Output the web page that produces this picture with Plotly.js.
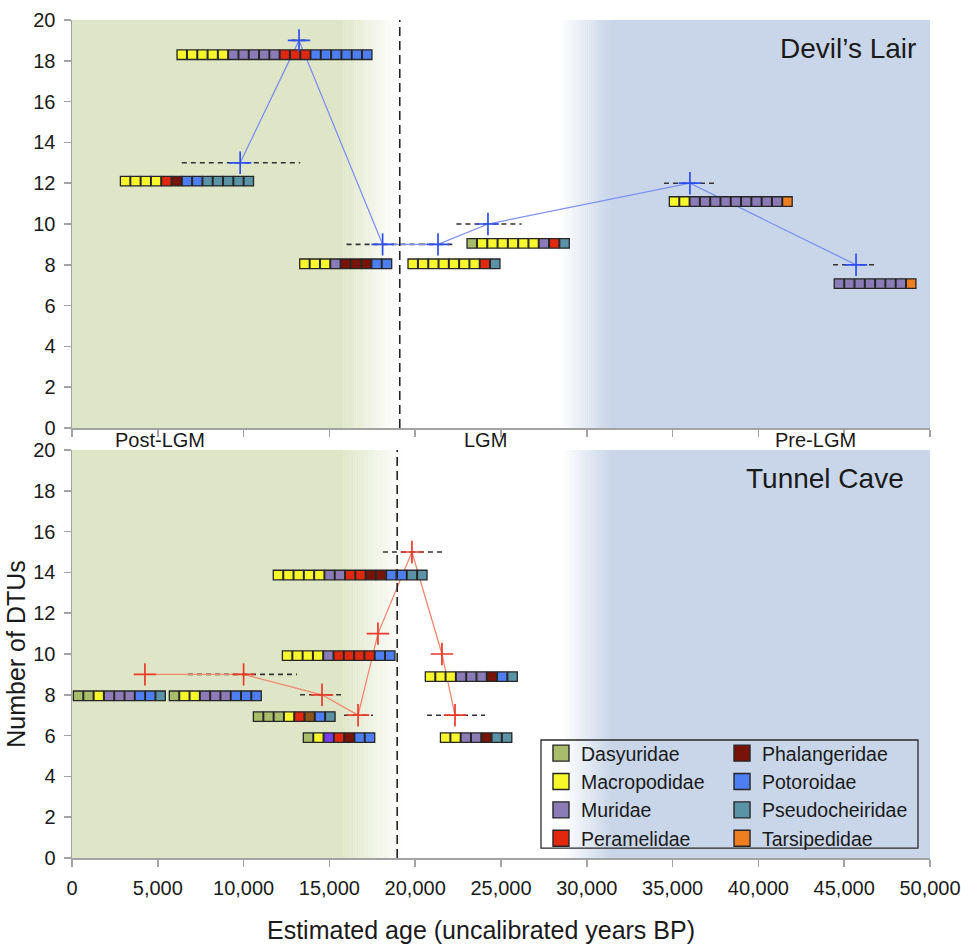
<!DOCTYPE html>
<html><head><meta charset="utf-8">
<script src="https://cdn.plot.ly/plotly-3.0.1.min.js"></script>
<style>html,body{margin:0;padding:0;background:#fff;}#chart{width:961px;height:947px;}</style>
</head><body><div id="chart"></div>
<script>
// ---------- DATA ----------
const ageTicks = [0, 5000, 10000, 15000, 20000, 25000, 30000, 35000, 40000, 45000, 50000];
const dtuTicks = [0, 2, 4, 6, 8, 10, 12, 14, 16, 18, 20];

const families = ['Dasyuridae', 'Macropodidae', 'Muridae', 'Peramelidae',
                  'Phalangeridae', 'Potoroidae', 'Pseudocheiridae', 'Tarsipedidae'];
const familyCodes = ['D', 'M', 'U', 'E', 'H', 'O', 'S', 'T'];
const familyColors = ['#a8bc6b', '#f8f72c', '#8b7cb7', '#e0280f',
                      '#771307', '#4e7ff2', '#5a93a6', '#ee7e1f'];
// two squares drawn in colours outside the legend
const extraCodes = ['V', 'B'];
const extraColors = ['#7a3ef0', '#8a5419'];

const periodLabels = ['Post-LGM', 'LGM', 'Pre-LGM'];
const periodAges = [5130, 24070, 43300];

// Devil's Lair samples
const dlAge   = [9800, 13230, 18100, 21330, 24240, 36010, 45690];
const dlDTU   = [13, 19, 9, 9, 10, 12, 8];
const dlAgeLo = [6400, 12800, 16000, 20300, 22400, 34500, 44350];
const dlAgeHi = [13300, 13700, 20300, 22300, 26200, 37500, 46850];
// Devil's Lair taxon rows
const dlRowStart = [6100, 2800, 13250, 19560, 23000, 34790, 44400];
const dlRowLevel = [18.3, 12.1, 8.05, 8.05, 9.05, 11.1, 7.08];
const dlRowTaxa  = ['MMMMMUUUUUEEEOOOOOO', 'MMMMEHOOSSSSS', 'MMMUHHHOO', 'MMMMMMMES',
                    'DMMMMMMUES', 'MMUUUUUUUUUT', 'UUUUUUUT'];

// Tunnel Cave samples
const tcAge   = [4250, 10000, 14570, 16670, 17830, 19810, 21560, 22320];
const tcDTU   = [9, 9, 8, 7, 11, 15, 10, 7];
const tcAgeLo = [null, 6760, 13290, 15850, null, 18120, null, 20690];
const tcAgeHi = [null, 13110, 15730, 17540, null, 21560, null, 24070];
// Tunnel Cave taxon rows
const tcRowStart = [60, 5650, 10550, 13460, 12240, 11710, 20570, 21450];
const tcRowLevel = [7.95, 7.95, 6.93, 5.9, 9.92, 13.87, 8.89, 5.9];
const tcRowTaxa  = ['DDMUUUOOS', 'DMMUUUOOO', 'DDDMEBOS', 'DMVEHOO',
                    'MMMMUEEEEOO', 'MMMMMUUEEHHOOSS', 'MMMUUUHOS', 'MMUUHSS'];

// ---------- STYLE / BUILD ----------
const FONT = 'Liberation Sans, Arial, sans-serif';
const TXT = '#1a1a1a';
const squareSpan = 600; // years covered by one taxon square
const GREEN = [223, 230, 200], BLUE = [201, 214, 233], WHITE = [255, 255, 255];

function colorOf(code) {
  let i = familyCodes.indexOf(code);
  if (i >= 0) return familyColors[i];
  i = extraCodes.indexOf(code);
  return extraColors[i];
}
function rowPoints(starts, levels, taxa) {
  const x = [], y = [], c = [];
  starts.forEach((s, r) => {
    taxa[r].split('').forEach((code, i) => {
      x.push(s + (i + 0.5) * squareSpan); y.push(levels[r]); c.push(colorOf(code));
    });
  });
  return {x, y, c};
}
function errPoints(lo, hi, v) {
  const x = [], y = [];
  lo.forEach((l, i) => { if (l !== null) { x.push(l, hi[i], null); y.push(v[i], v[i], null); } });
  return {x, y};
}
function sorted(ages, vals) {
  const idx = ages.map((a, i) => i).sort((a, b) => ages[a] - ages[b]);
  return {x: idx.map(i => ages[i]), y: idx.map(i => vals[i])};
}

function panelTraces(xa, ya, ages, vals, lo, hi, starts, levels, taxa, lineCol, markCol) {
  const e = errPoints(lo, hi, vals);
  const s = sorted(ages, vals);
  const r = rowPoints(starts, levels, taxa);
  return [
    {x: e.x, y: e.y, xaxis: xa, yaxis: ya, mode: 'lines', connectgaps: false, showlegend: false,
     hoverinfo: 'skip', line: {color: '#333', width: 1.6, dash: '5px,4px'}},
    {x: s.x, y: s.y, xaxis: xa, yaxis: ya, mode: 'lines', showlegend: false, hoverinfo: 'skip',
     line: {color: lineCol, width: 1.3}},
    {x: r.x, y: r.y, xaxis: xa, yaxis: ya, mode: 'markers', showlegend: false, hoverinfo: 'skip',
     marker: {symbol: 'square', size: 9.6, color: r.c, line: {color: '#262626', width: 1.3}}},
    {x: s.x, y: s.y, xaxis: xa, yaxis: ya, mode: 'markers', showlegend: false,
     marker: {symbol: 'cross-thin', size: 16, color: markCol, line: {color: markCol, width: 1.7}}}
  ];
}

let traces = [];
traces = traces.concat(panelTraces('x2', 'y2', dlAge, dlDTU, dlAgeLo, dlAgeHi,
  dlRowStart, dlRowLevel, dlRowTaxa, '#7d8ff2', '#2d4ff2'));
traces = traces.concat(panelTraces('x', 'y', tcAge, tcDTU, tcAgeLo, tcAgeHi,
  tcRowStart, tcRowLevel, tcRowTaxa, '#f2876f', '#ea3a2a'));
families.forEach((f, i) => {
  traces.push({x: [null], y: [null], xaxis: 'x', yaxis: 'y', mode: 'markers', name: f,
    legend: i < 4 ? 'legend' : 'legend2',
    marker: {symbol: 'square', size: 16, color: familyColors[i], line: {color: '#262626', width: 1.4}}});
});

function mix(a, b, t) {
  return 'rgb(' + a.map((v, k) => Math.round(v + (b[k] - v) * t)).join(',') + ')';
}
function bgShapes(yref, gSolid, gEnd, bStart, bSolid) {
  const out = [];
  const xref = yref === 'y domain' ? 'x' : 'x2';
  const base = {type: 'rect', xref: xref, yref: yref, y0: 0, y1: 1, layer: 'below', line: {width: 0}};
  out.push(Object.assign({}, base, {x0: 0, x1: gSolid, fillcolor: mix(GREEN, GREEN, 0)}));
  const N = 24;
  for (let k = 0; k < N; k++) {
    const a = gSolid + (gEnd - gSolid) * k / N, b = gSolid + (gEnd - gSolid) * (k + 1) / N;
    out.push(Object.assign({}, base, {x0: a, x1: b + 10, fillcolor: mix(GREEN, WHITE, (k + 0.5) / N)}));
  }
  for (let k = 0; k < N; k++) {
    const a = bStart + (bSolid - bStart) * k / N, b = bStart + (bSolid - bStart) * (k + 1) / N;
    out.push(Object.assign({}, base, {x0: a, x1: b + 10, fillcolor: mix(WHITE, BLUE, (k + 0.5) / N)}));
  }
  out.push(Object.assign({}, base, {x0: bSolid, x1: 50000, fillcolor: mix(BLUE, BLUE, 0)}));
  return out;
}

let shapes = [];
shapes = shapes.concat(bgShapes('y2 domain', 15800, 18900, 28400, 31300));
shapes = shapes.concat(bgShapes('y domain', 15800, 19300, 28600, 31400));
shapes.push({type: 'line', xref: 'x2', yref: 'y2 domain', x0: 19100, x1: 19100, y0: 0, y1: 1,
  line: {color: '#222', width: 1.6, dash: '9px,5px'}});
shapes.push({type: 'line', xref: 'x', yref: 'y domain', x0: 18950, x1: 18950, y0: 0, y1: 1,
  line: {color: '#222', width: 1.6, dash: '9px,5px'}});
// legend frame
shapes.push({type: 'rect', xref: 'paper', yref: 'paper', x0: 0.5466, x1: 0.986, y0: 0.0119, y1: 0.1408,
  line: {color: '#2a2a2a', width: 1.3}, fillcolor: 'rgba(0,0,0,0)'});

const annotations = [
  {text: "Devil’s Lair", xref: 'x2 domain', yref: 'y2 domain', x: 0.986, y: 0.931,
   xanchor: 'right', yanchor: 'middle', showarrow: false, font: {family: FONT, size: 28, color: TXT}},
  {text: 'Tunnel Cave', xref: 'x domain', yref: 'y domain', x: 0.972, y: 0.931,
   xanchor: 'right', yanchor: 'middle', showarrow: false, font: {family: FONT, size: 28, color: TXT}},
  {text: 'Estimated age (uncalibrated years BP)', xref: 'paper', yref: 'paper', x: 0.4767, y: -0.0859,
   xanchor: 'center', yanchor: 'middle', showarrow: false, font: {family: FONT, size: 25, color: TXT}}
];
periodLabels.forEach((t, i) => annotations.push({text: t, xref: 'x2', yref: 'y2 domain',
  x: periodAges[i], y: -0.03, xanchor: 'center', yanchor: 'middle', showarrow: false,
  font: {family: FONT, size: 20, color: TXT}}));

const axisCommon = {showgrid: false, zeroline: false, showline: true, linecolor: '#a3a3a3', linewidth: 1.5,
  ticks: 'outside', ticklen: 7, tickcolor: '#a3a3a3', tickwidth: 1.5,
  tickfont: {family: FONT, size: 20, color: TXT}};

const layout = {
  width: 961, height: 947,
  margin: {l: 72, r: 31, t: 20, b: 89},
  paper_bgcolor: '#fff', plot_bgcolor: '#fff',
  font: {family: FONT, color: TXT},
  showlegend: true,
  xaxis: Object.assign({}, axisCommon, {domain: [0, 1], anchor: 'y', range: [0, 50000],
    tickvals: ageTicks, tickformat: ',d', ticklabelstandoff: 4}),
  yaxis: Object.assign({}, axisCommon, {domain: [0, 0.4869], anchor: 'x', range: [0, 20],
    tickvals: dtuTicks, ticklabelstandoff: 4,
    title: {text: 'Number of DTUs', font: {family: FONT, size: 25, color: TXT}, standoff: 0}}),
  xaxis2: Object.assign({}, axisCommon, {domain: [0, 1], anchor: 'y2', range: [0, 50000],
    tickvals: ageTicks, showticklabels: false}),
  yaxis2: Object.assign({}, axisCommon, {domain: [0.5131, 1], anchor: 'x2', range: [0, 20],
    tickvals: dtuTicks, ticklabelstandoff: 4}),
  legend: {x: 0.5466, y: 0.148, xanchor: 'left', yanchor: 'top', bgcolor: 'rgba(0,0,0,0)',
    font: {family: FONT, size: 19.5, color: TXT}, tracegroupgap: 0},
  legend2: {x: 0.7576, y: 0.148, xanchor: 'left', yanchor: 'top', bgcolor: 'rgba(0,0,0,0)',
    font: {family: FONT, size: 19.5, color: TXT}, tracegroupgap: 0},
  shapes: shapes,
  annotations: annotations
};

Plotly.newPlot('chart', traces, layout, {displayModeBar: false, staticPlot: true});
</script>
</body></html>
